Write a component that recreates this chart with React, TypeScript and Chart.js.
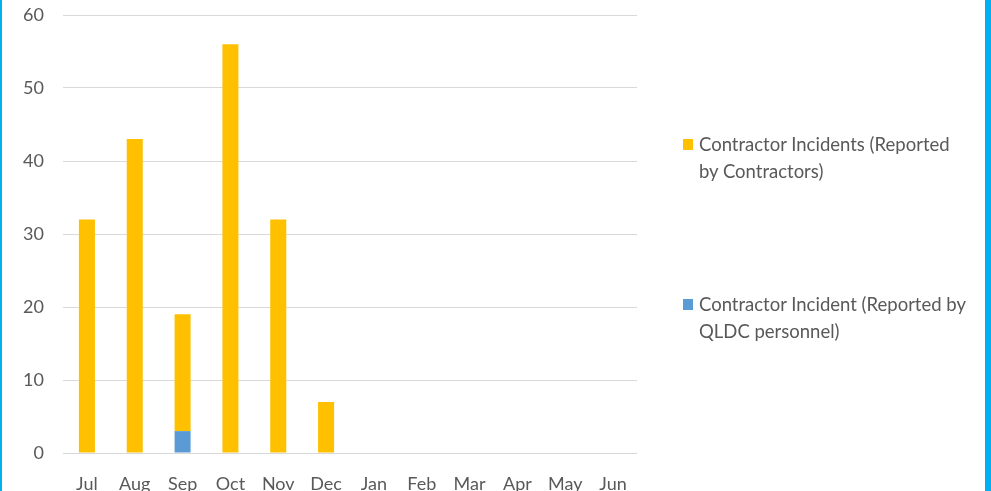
import React, { useEffect, useRef } from "react";
import { Chart, registerables } from "chart.js";

Chart.register(...registerables);

const months = ["Jul", "Aug", "Sep", "Oct", "Nov", "Dec", "Jan", "Feb", "Mar", "Apr", "May", "Jun"];
const reportedByContractors = [32, 43, 16, 56, 32, 7, 0, 0, 0, 0, 0, 0];
const reportedByQLDC = [0, 0, 3, 0, 0, 0, 0, 0, 0, 0, 0, 0];
const legendLabels = [
  ["Contractor Incidents (Reported", "by Contractors)"],
  ["Contractor Incident (Reported by", "QLDC personnel)"],
];
const seriesColors = ["#FFC000", "#5B9BD5"];

const FONT = "Lato, 'Open Sans', sans-serif";
const TEXT = "#595959";

export default function App() {
  const ref = useRef<HTMLCanvasElement | null>(null);
  useEffect(() => {
    const chart = new Chart(ref.current!, {
      type: "bar",
      data: {
        labels: months,
        datasets: [
          {
            label: legendLabels[1].join(" "),
            data: reportedByQLDC,
            backgroundColor: seriesColors[1],
            barPercentage: 0.335,
            categoryPercentage: 1,
          },
          {
            label: legendLabels[0].join(" "),
            data: reportedByContractors,
            backgroundColor: seriesColors[0],
            barPercentage: 0.335,
            categoryPercentage: 1,
          },
        ],
      },
      options: {
        animation: false,
        responsive: false,
        maintainAspectRatio: false,
        layout: { padding: { top: 15, right: 354, left: 0, bottom: 0 } },
        plugins: { legend: { display: false }, tooltip: { enabled: false } },
        scales: {
          x: {
            stacked: true,
            grid: { display: false },
            border: { display: false },
            ticks: { color: TEXT, font: { family: FONT, size: 18 }, padding: 12, maxRotation: 0, autoSkip: false },
            afterFit: (s: any) => { s.height = 38; },
          },
          y: {
            stacked: true,
            min: 0,
            max: 60,
            ticks: { stepSize: 10, color: TEXT, font: { family: FONT, size: 18 }, padding: 0 },
            grid: { color: "#D9D9D9", lineWidth: 1, drawTicks: true, tickLength: 19, tickColor: "rgba(0,0,0,0)" },
            border: { display: false },
            afterFit: (s: any) => { s.width = 63; },
          },
        },
      },
    });
    return () => chart.destroy();
  }, []);

  const legendTops = [131, 291];
  return (
    <div style={{ position: "fixed", left: 0, top: 0, width: 991, height: 491, background: "#fff", overflow: "hidden" }}>
      <canvas ref={ref} width={991} height={491} style={{ position: "absolute", left: 0, top: 0 }} />
      {legendLabels.map((lines, i) => (
        <div key={i} style={{ position: "absolute", left: 683, top: legendTops[i], fontFamily: FONT, fontSize: 18.5, color: TEXT, lineHeight: "27px" }}>
          <div style={{ position: "absolute", left: 0, top: 8, width: 10, height: 11, background: seriesColors[i] }} />
          <div style={{ marginLeft: 16, whiteSpace: "nowrap" }}>
            {lines.map((l, j) => (<div key={j}>{l}</div>))}
          </div>
        </div>
      ))}
      <div style={{ position: "absolute", left: 0, top: 0, width: 2, height: 491, background: "#00B0F0" }} />
      <div style={{ position: "absolute", left: 985, top: 0, width: 6, height: 491, background: "#00B0F0" }} />
    </div>
  );
}
